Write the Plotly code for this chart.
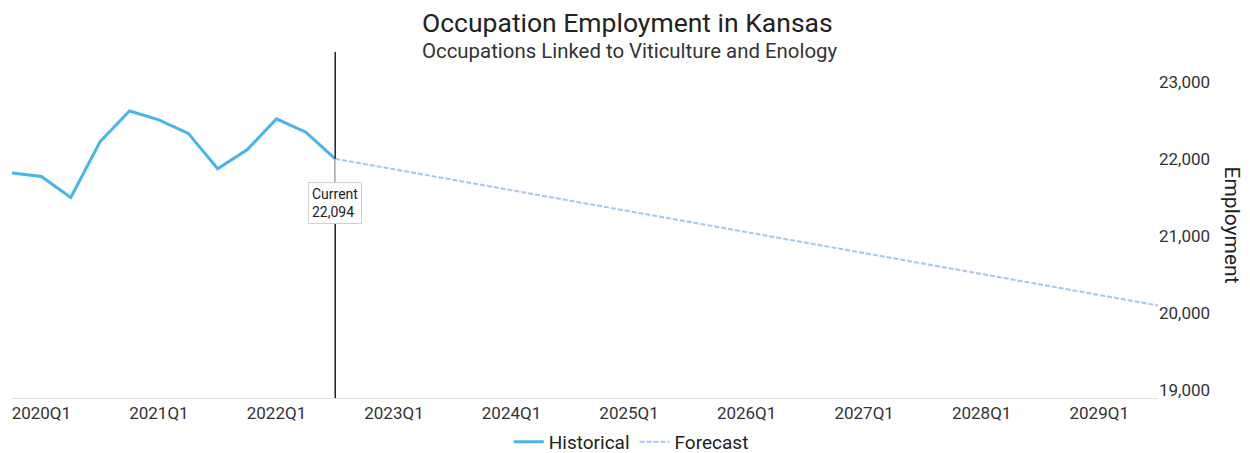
import plotly.graph_objects as go

# ---- data ----
hist_quarters = ["2019Q4", "2020Q1", "2020Q2", "2020Q3", "2020Q4", "2021Q1",
                 "2021Q2", "2021Q3", "2021Q4", "2022Q1", "2022Q2", "2022Q3"]
hist_values = [21817, 21773, 21501, 22227, 22624, 22508,
               22333, 21873, 22119, 22521, 22348, 22003]

fc_quarters = ["2022Q3", "2023Q3", "2024Q3", "2025Q3", "2026Q3",
               "2027Q3", "2028Q3", "2029Q3"]
fc_values = [22003, 21730, 21460, 21190, 20920, 20640, 20370, 20098]

tick_labels = ["2020Q1", "2021Q1", "2022Q1", "2023Q1", "2024Q1",
               "2025Q1", "2026Q1", "2027Q1", "2028Q1", "2029Q1"]
y_ticks = [19000, 20000, 21000, 22000, 23000]

current_quarter = "2022Q3"
current_label = "Current<br>22,094"

title_text = "Occupation Employment in Kansas"
subtitle_text = "Occupations Linked to Viticulture and Enology"


def qnum(q):
    y, n = q.split("Q")
    return int(y) + (int(n) - 1) / 4.0


hx = [qnum(q) for q in hist_quarters]
fx = [qnum(q) for q in fc_quarters]
tx = [qnum(q) for q in tick_labels]
cx = qnum(current_quarter)
cy = hist_values[hist_quarters.index(current_quarter)]

FONT = "Roboto"
H, T, B = 453, 52, 55
PH = H - T - B


def py(px):
    """pixel row -> paper y"""
    return (H - B - px) / PH


fig = go.Figure()
fig.add_trace(go.Scatter(x=hx, y=hist_values, mode="lines", name="Historical",
                         line=dict(color="#45B5EA", width=3)))
fig.add_trace(go.Scatter(x=fx, y=fc_values, mode="lines", name="Forecast",
                         line=dict(color="#A6C6F0", width=2, dash="5px,2px")))

# current marker line
fig.add_shape(type="line", xref="x", yref="paper", x0=cx, x1=cx, y0=0, y1=1,
              line=dict(color="#222222", width=1.5), layer="above")
fig.add_shape(type="line", xref="x", yref="y", x0=cx, x1=cx, y0=cy, y1=21680,
              line=dict(color="#cccccc", width=1.5), layer="above")
fig.add_annotation(x=cx, y=21700, xref="x", yref="y", text=current_label,
                   showarrow=False, xanchor="center", yanchor="top", align="left",
                   font=dict(family=FONT, size=14, color="#222222"),
                   bgcolor="white", bordercolor="#d0d0d0", borderwidth=1, borderpad=3)

# titles
fig.add_annotation(x=0.537, y=py(22), xref="paper", yref="paper",
                   text=title_text, showarrow=False, xanchor="center", yanchor="middle",
                   font=dict(family=FONT, size=26.5, color="#222222"))
fig.add_annotation(x=0.539, y=py(51), xref="paper", yref="paper",
                   text=subtitle_text, showarrow=False, xanchor="center", yanchor="middle",
                   font=dict(family=FONT, size=20.4, color="#333333"))

# right axis title
fig.add_annotation(x=1.065, y=0.5, xref="paper", yref="paper", text="Employment",
                   textangle=90, showarrow=False, xanchor="center", yanchor="middle",
                   font=dict(family=FONT, size=21, color="#222222"))

fig.update_layout(
    width=1250, height=H,
    margin=dict(l=12, r=92, t=T, b=B, autoexpand=False),
    paper_bgcolor="white", plot_bgcolor="white",
    font=dict(family=FONT, size=17, color="#333333"),
    showlegend=True,
    legend=dict(orientation="h", xref="container", x=0.505, xanchor="center",
                yref="container", y=1 - 442 / 453, yanchor="middle",
                font=dict(family=FONT, size=19, color="#222222"),
                itemwidth=30, bgcolor="rgba(0,0,0,0)"),
    xaxis=dict(range=[hx[0], fx[-1]], tickvals=tx, ticktext=tick_labels,
               showgrid=False, zeroline=False, showline=True, linecolor="#e0e0e0",
               linewidth=1, ticks="", automargin=False,
               tickfont=dict(family=FONT, size=17, color="#333333")),
    yaxis=dict(side="right", range=[18896, 23390], tickvals=y_ticks, tickformat=",",
               showgrid=False, zeroline=False, showline=False, ticks="", automargin=False,
               tickfont=dict(family=FONT, size=17, color="#333333")),
)

fig.write_html("out.html")
